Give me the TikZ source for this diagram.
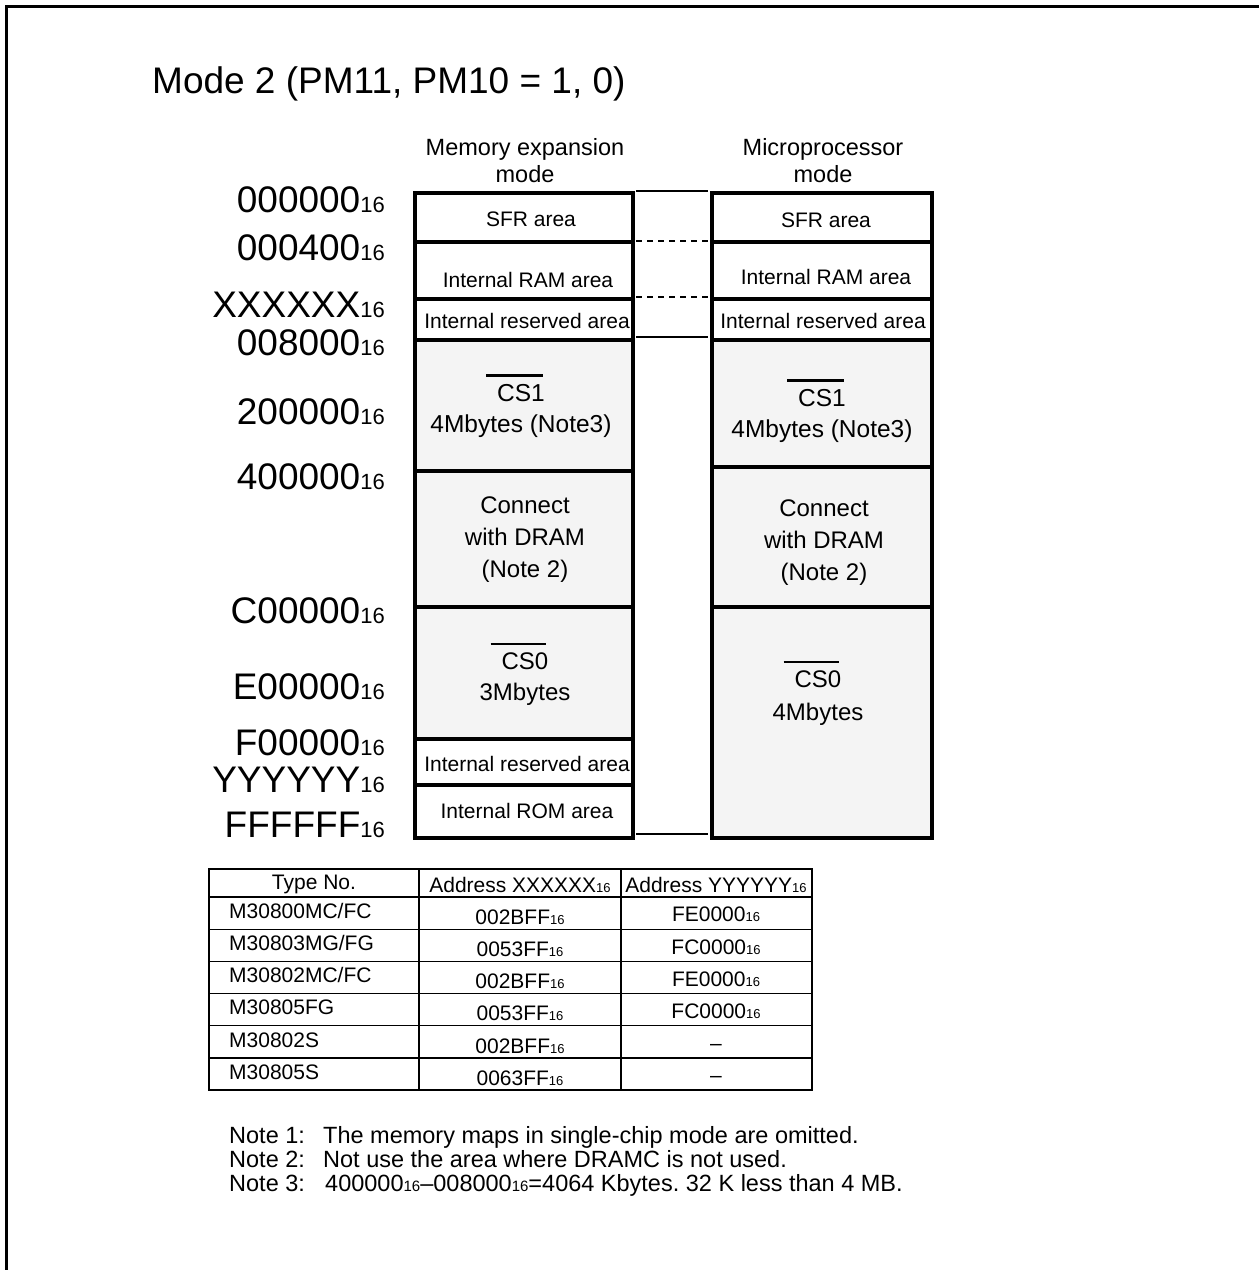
\documentclass[tikz,border=0pt]{standalone}
\usepackage{fontspec}
\setmainfont{Liberation Sans}
\frenchspacing
\definecolor{memgray}{HTML}{F4F4F4}
\newcommand\fs[1]{\fontsize{#1}{#1}\selectfont}
\newcommand\fsl[2]{\fontsize{#1}{#2}\selectfont}
\newcommand\sixt[1]{{\fs{#1}16}}
\newcommand\ovl[1]{\setbox0\hbox{#1}\rlap{\hspace{-11pt}\raisebox{\dimexpr\ht0+8pt}{\rule{\dimexpr\wd0+9pt}{2.2pt}}}\box0}
\begin{document}
\begin{tikzpicture}[x=1pt,y=-1pt,
  addr/.style={anchor=base east,inner sep=0,font=\fs{37}},
  cellbox/.style={draw,line width=4pt},
  graycell/.style={cellbox,fill=memgray},
  small/.style={inner sep=0,font=\fs{21}},
  big/.style={inner sep=0,align=center},
  tline/.style={line width=1.4pt},
  conn/.style={line width=1.4pt},
  notet/.style={anchor=base west,inner sep=0,font=\fs{23.5}}]
\useasboundingbox (0,0) rectangle (1259,1270);
% frame
\draw[line width=3pt] (6,1270) -- (6,6) -- (1259,6);
% title
\node[anchor=base west,inner sep=0,font=\fs{37}] (title) at (152,93) {Mode 2 (PM11, PM10 = 1, 0)};
% headers
\node[big,font=\fsl{23.5}{27}] (h1) at (525,161) {Memory expansion\\mode};
\node[big,font=\fsl{23.5}{27}] (h2) at (823,161) {Microprocessor\\mode};
% left column cells
\draw[cellbox] (415,193) rectangle (633,242);
\draw[cellbox] (415,242) rectangle (633,299);
\draw[cellbox] (415,299) rectangle (633,340);
\draw[graycell] (415,340) rectangle (633,471);
\draw[graycell] (415,471) rectangle (633,607);
\draw[graycell] (415,607) rectangle (633,739);
\draw[cellbox] (415,739) rectangle (633,785);
\draw[cellbox] (415,785) rectangle (633,838);
% right column cells
\draw[cellbox] (712,193) rectangle (932,242);
\draw[cellbox] (712,242) rectangle (932,299);
\draw[cellbox] (712,299) rectangle (932,340);
\draw[graycell] (712,340) rectangle (932,467);
\draw[graycell] (712,467) rectangle (932,607);
\draw[graycell] (712,607) rectangle (932,838);
% connectors between maps
\coordinate (c1a) at (636,191); \coordinate (c1b) at (708,191);
\coordinate (c2a) at (636,241); \coordinate (c2b) at (708,241);
\coordinate (c3a) at (636,297); \coordinate (c3b) at (708,297);
\coordinate (c4a) at (636,337); \coordinate (c4b) at (708,337);
\coordinate (c5a) at (636,834); \coordinate (c5b) at (708,834);
\draw[conn] (c1a) -- (c1b);
\draw[conn,dash pattern=on 6pt off 5pt] (c2a) -- (c2b);
\draw[conn,dash pattern=on 6pt off 5pt] (c3a) -- (c3b);
\draw[conn] (c4a) -- (c4b);
\draw[conn] (c5a) -- (c5b);
% left texts
\node[small] (l1) at (531,219) {SFR area};
\node[small] (l2) at (528,280) {Internal RAM area};
\node[small] (l3) at (527,321) {Internal reserved area};
\node[big,font=\fsl{24.5}{31}] (l4) at (521,406) {\ovl{CS1}\\4Mbytes (Note3)};
\node[big,font=\fsl{24}{32}] (l5) at (525,540) {Connect\\with DRAM\\(Note 2)};
\node[big,font=\fsl{24}{31}] (l6) at (525,674) {\ovl{CS0}\\3Mbytes};
\node[small] (l7) at (527,764) {Internal reserved area};
\node[small] (l8) at (527,811) {Internal ROM area};
% right texts
\node[small] (r1) at (826,220) {SFR area};
\node[small] (r2) at (826,277) {Internal RAM area};
\node[small] (r3) at (823,321) {Internal reserved area};
\node[big,font=\fsl{24.5}{31}] (r4) at (822,411) {\ovl{CS1}\\4Mbytes (Note3)};
\node[big,font=\fsl{24}{32}] (r5) at (824,543) {Connect\\with DRAM\\(Note 2)};
\node[big,font=\fsl{24}{33}] (r6) at (818,693) {\ovl{CS0}\\4Mbytes};
% address labels
\node[addr] (a1) at (385,212) {000000\sixt{22}};
\node[addr] (a2) at (385,260) {000400\sixt{22}};
\node[addr] (a3) at (385,317) {XXXXXX\sixt{22}};
\node[addr] (a4) at (385,355) {008000\sixt{22}};
\node[addr] (a5) at (385,424) {200000\sixt{22}};
\node[addr] (a6) at (385,489) {400000\sixt{22}};
\node[addr] (a7) at (385,623) {C00000\sixt{22}};
\node[addr] (a8) at (385,699) {E00000\sixt{22}};
\node[addr] (a9) at (385,755) {F00000\sixt{22}};
\node[addr] (a10) at (385,792) {YYYYYY\sixt{22}};
\node[addr] (a11) at (385,837) {FFFFFF\sixt{22}};
% table
\draw[tline] (209,869) rectangle (812,1090);
\draw[tline] (419,869) -- (419,1090);
\draw[tline] (621,869) -- (621,1090);
\foreach \yy in {897,929.2,961.3,993.5,1025.7,1057.8} \draw[tline] (209,\yy) -- (812,\yy);
\node[small] (th1) at (314,884) {Type No.};
\node[small] (th2) at (520,885) {Address XXXXXX\sixt{13}};
\node[small] (th3) at (716,885) {Address YYYYYY\sixt{13}};
\node[small,anchor=west] (t1a) at (229,911) {M30800MC/FC};
\node[small] (t1b) at (520,917) {002BFF\sixt{13}};
\node[small] (t1c) at (716,914) {FE0000\sixt{13}};
\node[small,anchor=west] (t2a) at (229,943) {M30803MG/FG};
\node[small] (t2b) at (520,949) {0053FF\sixt{13}};
\node[small] (t2c) at (716,947) {FC0000\sixt{13}};
\node[small,anchor=west] (t3a) at (229,975) {M30802MC/FC};
\node[small] (t3b) at (520,981) {002BFF\sixt{13}};
\node[small] (t3c) at (716,979) {FE0000\sixt{13}};
\node[small,anchor=west] (t4a) at (229,1007) {M30805FG};
\node[small] (t4b) at (520,1013) {0053FF\sixt{13}};
\node[small] (t4c) at (716,1011) {FC0000\sixt{13}};
\node[small,anchor=west] (t5a) at (229,1040) {M30802S};
\node[small] (t5b) at (520,1046) {002BFF\sixt{13}};
\node[small] (t5c) at (716,1047) {--};
\node[small,anchor=west] (t6a) at (229,1072) {M30805S};
\node[small] (t6b) at (520,1078) {0063FF\sixt{13}};
\node[small] (t6c) at (716,1079) {--};
% notes
\node[notet] (n1) at (229,1143) {Note 1:};
\node[notet] (n1t) at (323,1143) {The memory maps in single-chip mode are omitted.};
\node[notet] (n2) at (229,1167) {Note 2:};
\node[notet] (n2t) at (323,1167) {Not use the area where DRAMC is not used.};
\node[notet] (n3) at (229,1191) {Note 3:};
\node[notet] (n3t) at (325,1191) {400000\sixt{15}--008000\sixt{15}=4064 Kbytes. 32 K less than 4 MB.};
\end{tikzpicture}
\end{document}
